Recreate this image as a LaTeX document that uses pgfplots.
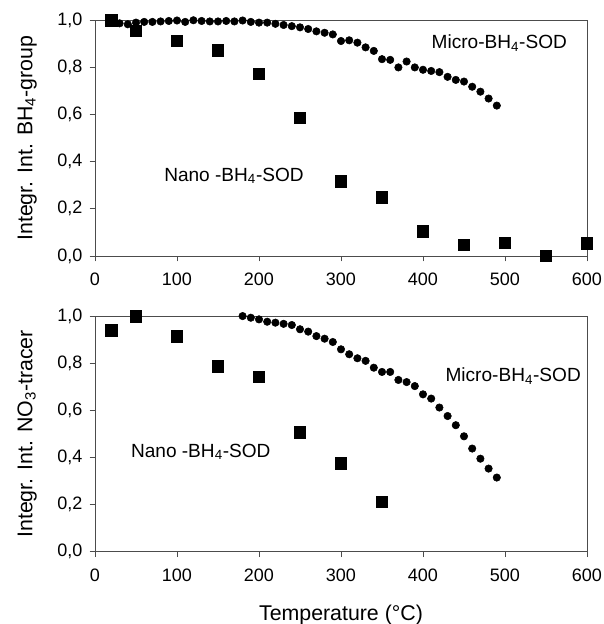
\documentclass[border=0pt]{standalone}
\usepackage{fontspec}
\setmainfont{Liberation Sans}
\usepackage{pgfplots}
\pgfplotsset{compat=1.18}

\pgfplotsset{
  panel/.style={
    scale only axis, width=369pt, height=176.8pt,
    xmin=0, xmax=600, ymin=0, ymax=1,
    xtick={0,100,...,600}, ytick={0,0.2,0.4,0.6,0.8,1.0},
    tick align=outside, tick pos=left, major tick length=4pt,
    axis line style={black!70, line width=0.6pt},
    every tick/.style={black!70, line width=0.6pt},
    /pgf/number format/assume math mode=true,
    tick label style={font=\fontsize{13.5}{16}\selectfont},
    yticklabel style={xshift=-2pt, /pgf/number format/.cd, fixed, fixed zerofill, precision=1, use comma},
    xticklabel style={yshift=-5pt, /pgf/number format/.cd, fixed, precision=0},
    ylabel style={font=\fontsize{16}{19}\selectfont, at={(axis description cs:-0.118,0.5)},
      anchor=south, inner sep=0pt},
    xlabel style={font=\fontsize{16}{19}\selectfont, at={(axis description cs:0.5,-0.29)},
      anchor=base},
    clip=false,
  },
  micro/.style={only marks, mark=*, mark size=2.8pt, black},
  nano/.style={only marks, mark=square*, mark size=4.3pt, black},
}
\tikzset{lbl/.style={font=\fontsize{14.3}{17}\selectfont, anchor=base}}

\begin{document}
\begin{tikzpicture}
\path[use as bounding box] (-71.25pt,-276pt) rectangle (381pt,192pt);

% upper panel: BH4 group
\begin{axis}[panel, at={(0,0)}, anchor=south west,
  ylabel={Integr. Int. BH\textsubscript{4}-group}]
\addplot[micro] coordinates {
  (20,1.00) (30,0.987) (40,0.983) (50,0.99) (60,0.993) (70,0.993) (80,0.995)
  (90,0.997) (100,0.999) (110,0.993) (120,1.0) (130,0.997) (140,0.995) (150,0.995)
  (160,0.997) (170,0.995) (180,0.999) (190,0.993) (200,0.99) (210,0.99) (220,0.985)
  (230,0.98) (240,0.975) (250,0.97) (260,0.963) (270,0.953) (280,0.947) (290,0.94)
  (300,0.912) (310,0.915) (320,0.905) (330,0.885) (340,0.87) (350,0.835) (360,0.832)
  (370,0.80) (380,0.825) (390,0.80) (400,0.79) (410,0.785) (420,0.78) (430,0.76)
  (440,0.747) (450,0.74) (460,0.718) (470,0.697) (480,0.668) (490,0.638)
};
\addplot[nano] coordinates {
  (20,1.0) (50,0.955) (100,0.912) (150,0.873) (200,0.774) (250,0.587)
  (300,0.317) (350,0.25) (400,0.105) (450,0.047) (500,0.056) (550,0.0) (600,0.054)
};
\node[lbl] at (axis cs:493,0.88) {Micro-BH\textsubscript{4}-SOD};
\node[lbl] at (axis cs:169.5,0.318) {Nano -BH\textsubscript{4}-SOD};
\end{axis}

% lower panel: NO3 tracer
\begin{axis}[panel, at={(0,-221.85pt)}, anchor=south west,
  ylabel={Integr. Int. NO\textsubscript{3}-tracer},
  xlabel={Temperature (°C)}]
\addplot[micro] coordinates {
  (180,1.0) (190,0.993) (200,0.986) (210,0.976) (220,0.972) (230,0.967) (240,0.962)
  (250,0.944) (260,0.934) (270,0.915) (280,0.904) (290,0.89) (300,0.859) (310,0.838)
  (320,0.821) (330,0.81) (340,0.781) (350,0.763) (360,0.763) (370,0.729) (380,0.72)
  (390,0.703) (400,0.668) (410,0.65) (420,0.612) (430,0.576) (440,0.537) (450,0.49)
  (460,0.438) (470,0.395) (480,0.353) (490,0.315)
};
\addplot[nano] coordinates {
  (20,0.94) (50,1.0) (100,0.915) (150,0.787) (200,0.742) (250,0.508)
  (300,0.376) (350,0.213)
};
\node[lbl] at (axis cs:510,0.724) {Micro-BH\textsubscript{4}-SOD};
\node[lbl] at (axis cs:129,0.402) {Nano -BH\textsubscript{4}-SOD};
\end{axis}
\end{tikzpicture}
\end{document}
